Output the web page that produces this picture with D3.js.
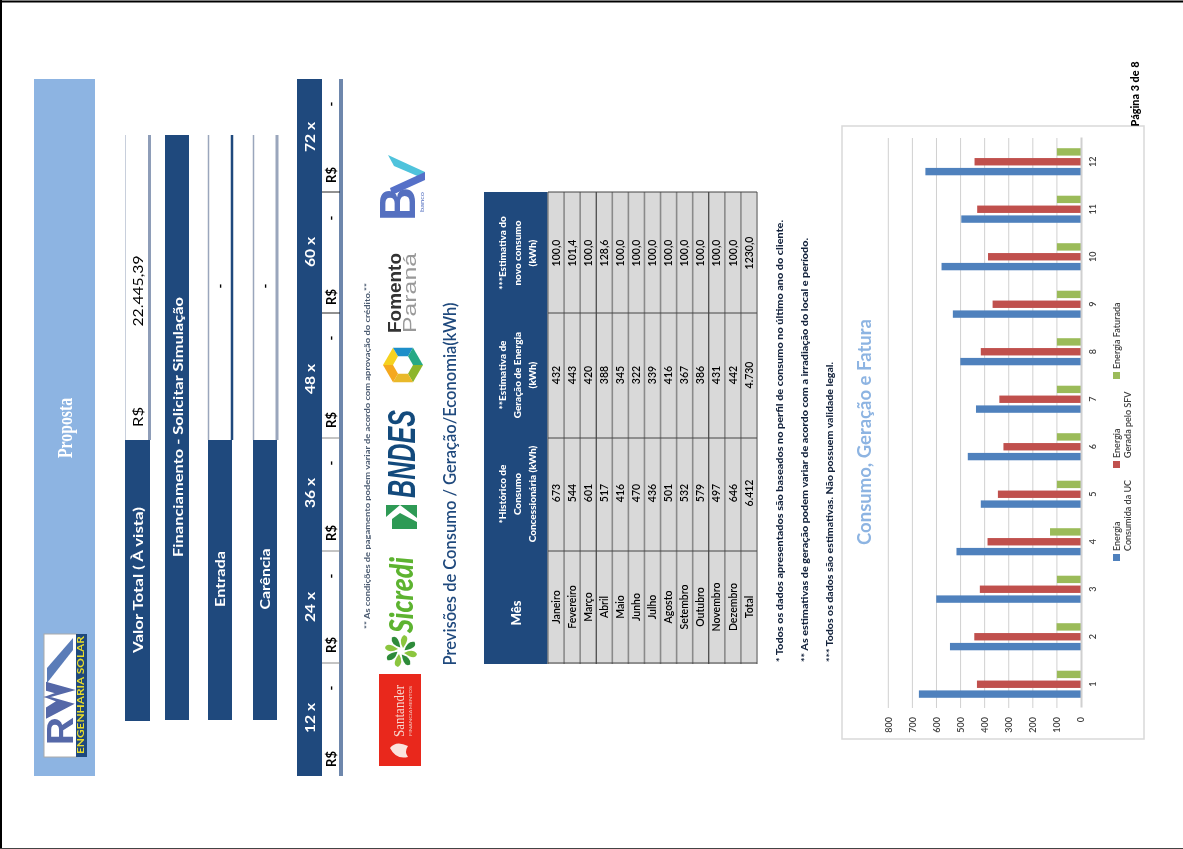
<!DOCTYPE html>
<html><head><meta charset="utf-8">
<script src="https://cdnjs.cloudflare.com/ajax/libs/d3/7.8.5/d3.min.js"></script>
<style>
html,body{margin:0;padding:0;background:#fff;overflow:hidden}
svg{display:block;filter:blur(0.45px)}
text{font-family:Lato,"Open Sans",sans-serif}
</style></head><body>
<svg id="page" width="1183" height="849"></svg>
<script>
// ---- data ----
const months = ["Janeiro","Fevereiro","Março","Abril","Maio","Junho","Julho","Agosto","Setembro","Outubro","Novembro","Dezembro"];
const monthNumbers = ["1","2","3","4","5","6","7","8","9","10","11","12"];
const consumo = [673,544,601,517,416,470,436,501,532,579,497,646];
const geracao = [432,443,420,388,345,322,339,416,367,386,431,442];
const faturada = [100,101.4,100,128.6,100,100,100,100,100,100,100,100];
const totals = ["Total","6.412","4.730","1230,0"];
const seriesNames = ["Energia Consumida da UC","Energia Gerada pelo SFV","Energia Faturada"];
const seriesColors = ["#4F81BD","#C0504D","#9BBB59"];
const valueTicks = [0,100,200,300,400,500,600,700,800];
const parcelas = ["12 x","24 x","36 x","48 x","60 x","72 x"];
const footnotes = [
 "* Todos os dados apresentados são baseados no perfil de consumo no último ano do cliente.",
 "** As estimativas de geração podem variar de acordo com a irradiação do local e período.",
 "*** Todos os dados são estimativas. Não possuem validade legal."];

const NAVY="#1F497D", SKY="#8DB4E2";
const svg=d3.select("#page");

function R(x0,y0,x1,y1,fill,parent){return (parent||svg).append("rect").attr("x",x0).attr("y",y0).attr("width",x1-x0).attr("height",y1-y0).attr("fill",fill);}
function L(x0,y0,x1,y1,c,w){return svg.append("line").attr("x1",x0).attr("y1",y0).attr("x2",x1).attr("y2",y1).attr("stroke",c).attr("stroke-width",w);}
// text read bottom-to-top. o.a: anchor; o.len: fitted length in px
function T(s,x,y,o={}){
  const t=svg.append("text").text(s).attr("transform",`translate(${x},${y}) rotate(-90)`)
    .attr("dy","0.35em").attr("text-anchor",o.a||"middle")
    .attr("font-size",o.size||11).attr("font-weight",o.w||"normal").attr("fill",o.c||"#000");
  if(o.len) t.attr("textLength",o.len).attr("lengthAdjust","spacingAndGlyphs");
  if(o.font) t.style("font-family",o.font);
  if(o.italic) t.attr("font-style","italic");
  return t;
}

// ---- page frame ----
R(0,0,1183,849,"#fff");
L(0,1.5,1183,1.5,"#000",2);
L(1,0,1,849,"#000",2);
L(0,848.5,1183,848.5,"#444",1);

// ---- banner ----
R(34,79,95,776,SKY);
T("Proposta",65,428,{size:20,w:"bold",c:"#fff",font:"'Liberation Serif',serif",len:60});
// logo
R(44,634,77,757,"#fff").attr("stroke","#aaa");
R(76,634,87,757,NAVY);
T("ENGENHARIA SOLAR",81.5,695,{size:8.5,w:"bold",c:"#E8DC2A",len:118});
svg.append("path").attr("d","M47 683 L73 650 L73 638 L47 668 Z").attr("fill","#5a7cb8");
svg.append("path").attr("d","M47 717 L72 704 L47 697 L72 690 L47 683 L47 690 L58 693 L47 697 L58 701 L47 708 Z").attr("fill","#5568a8").attr("stroke","#5568a8").attr("stroke-width",2);
T("R",60,731,{size:36,w:"bold",c:"#5568a8",font:"'Liberation Sans',sans-serif",len:28});

// ---- value rows ----
R(125,440,150,721,NAVY);
R(125,135,150,440,"#fff");
L(149.5,135,149.5,440,"#8E9DB8",3); L(125.5,135,125.5,440,"#c8cfdc",1);
T("Valor Total ( À vista)",138,580,{size:14,w:"bold",c:"#fff",len:146});
T("R$",138,417,{size:14,len:20});
T("22.445,39",138,291,{size:14,len:71});
R(165,135,189,720,NAVY);
T("Financiamento - Solicitar Simulação",178,427,{size:14,w:"bold",c:"#fff",len:260});
[[208,232,"Entrada"],[253,277,"Carência"]].forEach(([a,b,s],i)=>{
  R(a,440,b,720,NAVY);
  L(a+.5,135,a+.5,440,"#9AA6BC",1.5); L(b,135,b,440,i?"#9AA6BC":NAVY,i?3:2.5);
  T(s,(a+b)/2,579,{size:14,w:"bold",c:"#fff",len:i?61:56});
  T("-",(a+b)/2,286,{size:13,w:"bold"});
});

// ---- parcelas ----
R(297,79,322,776,NAVY);
R(339,79,343,776,"#6E87AC");
const parcelaY=[718,607,493,379,252,137], rsY=[759,645,533,420,297,175], dashY=[688,576,463,338,218,104];
parcelas.forEach((p,i)=>{
  T(p,310,parcelaY[i],{size:14,w:"bold",c:"#fff",len:30});
  T("R$",331,rsY[i],{size:13,w:"bold",len:16});
  T("-",331,dashY[i],{size:13,w:"bold"});
});
[[663,"#888"],[551,"#888"],[438,"#888"],[313,"#222"],[192,"#222"]].forEach(([y,c])=>L(322,y,340,y,c,1));

T("** As condições de pagamento podem variar de acordo com aprovação do crédito.**",367,456,{size:8,w:"bold",c:"#4a5a70",len:346});

// ---- bank logos ----
R(379,674,421,766,"#E9281C");
T("Santander",399,711,{size:15,c:"#f6d8d0",font:"'Liberation Serif',serif",len:52});
T("FINANCIAMENTOS",410,711,{size:4.5,c:"#f3c8c0",len:50});
svg.append("path").attr("d","M390 748 Q396 740 408 746 Q404 752 408 757 Q396 760 390 748 Z").attr("fill","#fbe4de");
T("Sicredi",402,595,{size:32,w:"900",c:"#5DB330",italic:true,len:76});
const flower=svg.append("g").attr("transform","translate(401,651)");
d3.range(8).forEach(i=>flower.append("path").attr("d","M2 -3 Q10 -14 3 -16 Q-3 -12 2 -3 Z").attr("transform",`rotate(${i*45})`).attr("fill",i%2?"#2E8B3A":"#8CC63F"));
T("BNDES",402,454,{size:38,w:"900",c:"#134a7c",italic:true,len:88,font:"'Liberation Sans',sans-serif"});
R(386,505,417,529,"#2E9A55");
svg.append("path").attr("d","M386 517 L400 505 L417 518 L417 522 L400 513 L392 519 L392 529 L386 529 Z").attr("fill","#fff");
const hex=svg.append("g").attr("transform","translate(403,365)");
const hexCol=["#8DB62B","#E9B92A","#F5A81E","#F5D21F","#1D8FC9","#27A985"];
d3.range(6).forEach(i=>{
  const a=(i*60)*Math.PI/180,b=((i+1)*60)*Math.PI/180;
  const p=(r,t)=>[r*Math.cos(t),r*Math.sin(t)].map(v=>v.toFixed(2)).join(" ");
  hex.append("path").attr("d",`M${p(10,a)} L${p(20,a)} L${p(20,b)} L${p(10,b)} Z`).attr("fill",hexCol[i]);
});
T("Fomento",395,293,{size:18,w:"bold",c:"#333",len:80,font:"'Liberation Sans',sans-serif"});
T("Paraná",410,293,{size:18,c:"#999",len:80,font:"'Liberation Sans',sans-serif"});
svg.append("path").attr("d","M388 155 L425 172 L422 178 L394 166 Z").attr("fill","#4FC3DC");
svg.append("path").attr("d","M425 172 L390 188 L392 195 L425 180 Z").attr("fill","#5570C8");
T("B",397,204,{size:50,w:"900",c:"#5570C0",len:34,font:"'Liberation Sans',sans-serif"});
T("banco",422,202,{size:6,c:"#5570C0",len:20});

T("Previsões de Consumo / Geração/Economia(kWh)",450,484,{size:18,c:NAVY,len:363,w:"600"});

// ---- table ----
const rowNames=[...months,"Total"];
const rowX=d3.scaleBand().domain(rowNames).range([548,757]);
const colEdges=[663,551,438,313,192];
R(484,192,548,664,NAVY);
R(548,192,757,664,"#D9D9D9");
rowNames.forEach((m,i)=>{
  const x=rowX(m)+rowX.bandwidth();
  const dark=(i===2||i===9);
  L(x,192,x,664,dark?"#222":"#8a8a8a",dark?1:1.6);
});
L(548,192,548,664,"#888",1.5);
colEdges.forEach(y=>L(548,y,757,y,"#444",1));
T("Mês",516,613,{size:13,w:"900",c:"#fff"});
[["*Histórico de","Consumo","Concessionária (kWh)"],["**Estimativa de","Geração de Energia","(kWh)"],["***Estimativa do","novo consumo","(kWh)"]]
 .forEach((lines,c)=>lines.forEach((s,i)=>T(s,502+i*15,[494,375,253][c],{size:10,w:"900",c:"#fff"})));
const fmt1=v=>v.toFixed(1).replace(".",",");
const cell={size:10.5,c:"#000",w:"600"};
months.forEach((m,i)=>{
  const x=rowX(m)+rowX.bandwidth()/2;
  T(m,x,607,cell);
  T(consumo[i],x,493,cell);
  T(geracao[i],x,375,cell);
  T(fmt1(faturada[i]),x,253,cell);
});
const tx=rowX("Total")+rowX.bandwidth()/2;
[607,493,375,253].forEach((y,i)=>T(totals[i],tx,y,cell));

// footnotes
footnotes.forEach((s,i)=>{
  T(s,[780,805,830][i],662,{a:"start",size:9,w:"900",c:"#14233c",len:[442,424,300][i]});
});

// ---- chart panel ----
R(842,126,1144,739,"#fff").attr("stroke","#d9d9d9").attr("stroke-width",1.5);
T("Consumo, Geração e Fatura",865,432,{size:18,c:SKY,len:226,w:"bold"});

// chart in an upright frame, rotated onto the page
const chart=svg.append("g").attr("transform","translate(0,849) rotate(-90)");
const u=d3.scaleBand().domain(monthNumbers).range([141,711]);
const v=d3.scaleLinear().domain([0,800]).range([1081,888.3]);
const inner=d3.scaleBand().domain(seriesNames).range([-16,16]).padding(0.25);

const yAxis=d3.axisLeft(v).tickValues(valueTicks).tickSize(0).tickPadding(9);
const gy=chart.append("g").attr("transform","translate(141,0)").call(yAxis);
gy.select(".domain").remove();
gy.selectAll("text").attr("font-size",9).attr("font-weight",600).attr("fill","#404040").style("font-family","Lato,sans-serif");
chart.append("g").selectAll("line").data(valueTicks.slice(1)).join("line")
  .attr("x1",141).attr("x2",711).attr("y1",d=>v(d)).attr("y2",d=>v(d)).attr("stroke","#d0d0d0").attr("stroke-width",1);

[consumo,geracao,faturada].forEach((vals,s)=>{
  chart.append("g").attr("fill",seriesColors[s]).selectAll("rect").data(vals).join("rect")
   .attr("x",(d,i)=>u(monthNumbers[i])+u.bandwidth()/2+inner(seriesNames[s]))
   .attr("width",inner.bandwidth())
   .attr("y",d=>v(d)).attr("height",d=>v(0)-v(d));
});
const xAxis=d3.axisBottom(u).tickSize(0).tickPadding(9);
const gx=chart.append("g").attr("transform","translate(0,1081)").call(xAxis);
gx.select(".domain").attr("stroke","#d0d0d0").attr("stroke-width",2);
gx.selectAll("text").attr("font-size",9).attr("font-weight",600).attr("fill","#404040").style("font-family","Lato,sans-serif");

// legend
const lg=[[557,["Energia","Consumida da UC"]],[464,["Energia","Gerada pelo SFV"]],[375,["Energia Faturada"]]];
lg.forEach(([y,lines],i)=>{
  R(1113,y-3,1120,y+4,seriesColors[i]);
  lines.forEach((s,j)=>T(s,1117+j*11,y-6,{a:"start",size:9,c:"#404040",w:"600"}));
});

T("Página 3 de 8",1135,94,{size:11,w:"900",len:65});
</script>
</body></html>
